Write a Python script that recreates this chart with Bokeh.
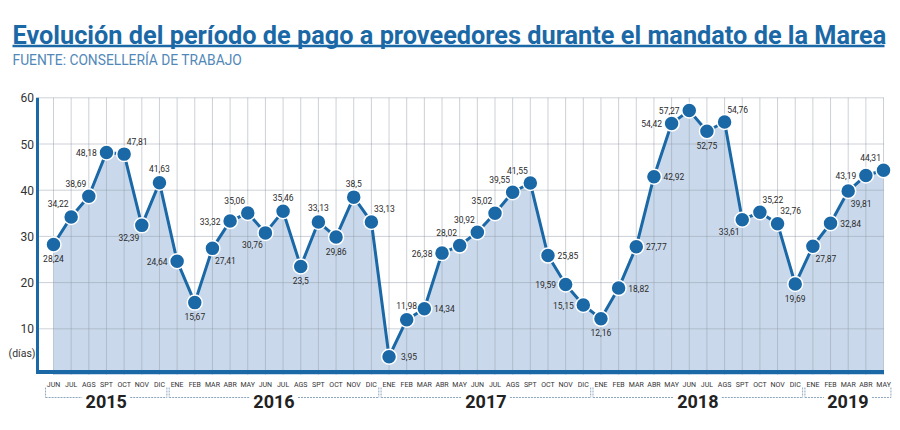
from bokeh.plotting import figure
from bokeh.models import Range1d, ColumnDataSource
from bokeh.core.properties import value
from bokeh.embed import file_html
from bokeh.resources import INLINE

# ---------------- data ----------------
years = ["2015", "2016", "2017", "2018", "2019"]
months_2015 = ["JUN", "JUL", "AGS", "SPT", "OCT", "NOV", "DIC"]
months_full = ["ENE", "FEB", "MAR", "ABR", "MAY", "JUN", "JUL", "AGS", "SPT", "OCT", "NOV", "DIC"]
months_2019 = ["ENE", "FEB", "MAR", "ABR", "MAY"]

values_2015 = [28.24, 34.22, 38.69, 48.18, 47.81, 32.39, 41.63]
values_2016 = [24.64, 15.67, 27.41, 33.32, 35.06, 30.76, 35.46, 23.5, 33.13, 29.86, 38.5, 33.13]
values_2017 = [3.95, 11.98, 14.34, 26.38, 28.02, 30.92, 35.02, 39.55, 41.55, 25.85, 19.59, 15.15]
values_2018 = [12.16, 18.82, 27.77, 42.92, 54.42, 57.27, 52.75, 54.76, 33.61, 35.22, 32.76, 19.69]
values_2019 = [27.87, 32.84, 39.81, 43.19, 44.31]

y_ticks = [10, 20, 30, 40, 50, 60]
y_unit = "(días)"

title_text = "Evolución del período de pago a proveedores durante el mandato de la Marea"
source_text = "FUENTE: CONSELLERÍA DE TRABAJO"

# label placement (style, not data)
pos_2015 = ["b", "al", "al", "l", "ar", "bl", "a"]
pos_2016 = ["l", "b", "br", "l", "al", "bl", "a", "b", "a", "b", "a", "ar"]
pos_2017 = ["r", "a", "r", "l", "al", "al", "al", "al", "al", "r", "l", "l"]
pos_2018 = ["b", "r", "r", "r", "l", "l", "b", "ar", "bl", "ar", "ar", "b"]
pos_2019 = ["br", "r", "br", "l", "al"]

# ---------------- assemble ----------------
year_months = [months_2015, months_full, months_full, months_full, months_2019]
year_values = [values_2015, values_2016, values_2017, values_2018, values_2019]
positions = pos_2015 + pos_2016 + pos_2017 + pos_2018 + pos_2019

month_labels = [m for ms in year_months for m in ms]
vals = [v for vs in year_values for v in vs]
idx = list(range(len(vals)))

OFF = {"a": (0, -14), "b": (0, 14), "l": (-20, 0), "r": (20, 0),
       "al": (-13, -13), "ar": (13, -13), "bl": (-13, 12), "br": (13, 12)}

W, H = 892, 426
PAGE = 0                 # page offset of the canvas
X0, XS = 53.0, 17.66     # page x of first month, px per month
Y0, YS = 374.5, 4.62     # page y of value 0, px per unit


def dx(px):
    return (px - X0) / XS


def dy(py):
    return (Y0 - py) / YS


BLUE = "#1b68a6"
FONT = "Roboto"

p = figure(width=W, height=H, output_backend="svg", toolbar_location=None,
           x_range=Range1d(dx(PAGE), dx(PAGE + W)), y_range=Range1d(dy(PAGE + H), dy(PAGE)),
           x_axis_type=None, y_axis_type=None, min_border=0,
           outline_line_color=None, background_fill_color="white",
           border_fill_color="white")

x_left, x_right = dx(37), dx(883.5)
n = len(vals)

# area
p.varea(x=idx, y1=[0] * n, y2=vals, fill_color="#c9d9eb")

# grid
p.segment(x0=[x_left] * len(y_ticks), x1=[x_right] * len(y_ticks), y0=y_ticks, y1=y_ticks,
          line_color="#8f9aa6", line_alpha=0.45, line_width=1)
p.segment(x0=idx, x1=idx, y0=[0] * n, y1=[max(y_ticks)] * n,
          line_color="#8f9aa6", line_alpha=0.45, line_width=1)

# axes lines
p.segment(x0=[x_left], x1=[x_left], y0=[dy(372)], y1=[max(y_ticks)], line_color=BLUE, line_width=3)
p.segment(x0=[dx(35.5)], x1=[x_right], y0=[dy(371.5)], y1=[dy(371.5)], line_color=BLUE, line_width=4)

# y tick labels
p.text(x=[dx(33.5)] * len(y_ticks), y=y_ticks, text=[str(t) for t in y_ticks],
       text_align="right", text_baseline="middle", text_font=value(FONT),
       text_font_size="12px", text_color="#333333")
p.text(x=[dx(35)], y=[dy(353)], text=[y_unit], text_align="right", text_baseline="middle",
       text_font=value(FONT), text_font_size="10.5px", text_color="#333333")

# series line + markers
p.line(idx, vals, line_color=BLUE, line_width=3)
p.scatter(idx, vals, size=15, fill_color=BLUE, line_color="white", line_width=1.5)

# data labels
src = ColumnDataSource(dict(
    x=idx, y=vals,
    t=[("%g" % v).replace(".", ",") for v in vals],
    xo=[OFF[c][0] for c in positions], yo=[OFF[c][1] for c in positions]))
p.text(x="x", y="y", text="t", x_offset="xo", y_offset="yo", source=src,
       text_align="center", text_baseline="middle", text_font=value(FONT),
       text_font_size="8.5px", text_color="#2b2b2b")

# month labels
p.text(x=idx, y=[dy(384)] * n, text=month_labels, text_align="center", text_baseline="middle",
       text_font=value(FONT), text_font_size="7px", text_color="#333333")

# year brackets
start = 0
bx0, bx1, by0, by1 = [], [], [], []
yr_x = []
yb, yt = dy(397), dy(387)
for ms in year_months:
    a, b = start - 0.45, start + len(ms) - 1 + 0.42
    c = (a + b) / 2
    gap = 24 / XS
    yr_x.append(c)
    for (x0, y0, x1, y1) in [(a, yt, a, yb), (b, yt, b, yb), (a, yb, c - gap, yb), (c + gap, yb, b, yb)]:
        bx0.append(x0); by0.append(y0); bx1.append(x1); by1.append(y1)
    start += len(ms)
p.segment(x0=bx0, y0=by0, x1=bx1, y1=by1, line_color="#8ea6bd", line_width=1, line_dash="2 1")
p.text(x=yr_x, y=[dy(401)] * len(years), text=years, text_align="center", text_baseline="middle",
       text_font=value(FONT), text_font_style="bold", text_font_size="18px", text_color="#222222")

# title, underline, source
p.text(x=[dx(12)], y=[dy(35)], text=[title_text], text_align="left", text_baseline="alphabetic",
       text_font=value(FONT), text_font_style="bold", text_font_size="25.3px", text_color=BLUE)
p.segment(x0=[dx(12)], x1=[dx(884)], y0=[dy(45.5)], y1=[dy(45.5)], line_color=BLUE, line_width=2.5)
p.text(x=[dx(12)], y=[dy(59.5)], text=[source_text], text_align="left", text_baseline="alphabetic",
       text_font=value(FONT), text_font_size="13.8px", text_color="#5288b8")

open("out.html", "w").write(file_html(p, INLINE))
